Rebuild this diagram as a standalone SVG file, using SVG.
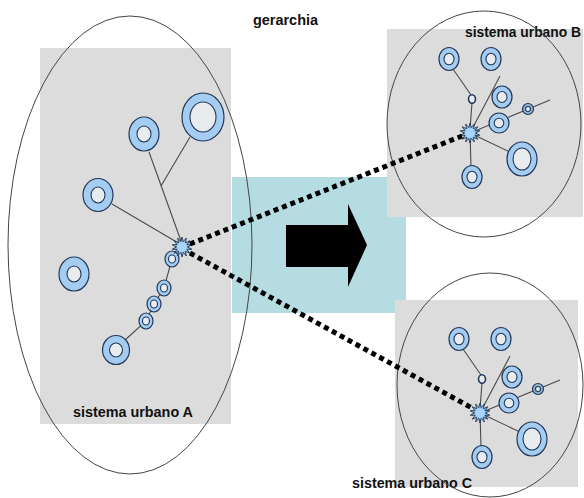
<svg xmlns="http://www.w3.org/2000/svg" xmlns:xlink="http://www.w3.org/1999/xlink" width="584" height="498" viewBox="0 0 584 498">
  <style>
    .bg { fill: #dcdcdc; }
    .zone { fill: #b5dde1; }
    .bound { fill: none; stroke: #454545; stroke-width: 1; }
    .link { stroke: #4a4a4a; stroke-width: 1.1; fill: none; }
    .ring { fill: #a5cdf2; stroke: #22385a; stroke-width: 1.2; }
    .hole { fill: #e8ecef; stroke: #22385a; stroke-width: 1.1; }
    .star { fill: #8ec3f0; stroke: #1e3350; stroke-width: 0.9; }
    .core { fill: #a9d5fb; }
    .flow { stroke: #000; stroke-width: 5; stroke-dasharray: 5 4; fill: none; }
    .label { font-family: "Liberation Sans", Arial, sans-serif; font-weight: bold; font-size: 14px; fill: #111; }
  </style>
  <defs>
    <!-- starburst marking the main centre of each system -->
    <g id="hub">
      <polygon class="star" points="0,-10 1.22,-5.36 4.34,-9.01 3.43,-4.3 7.82,-6.23 4.96,-2.39 9.75,-2.23 5.5,0 9.75,2.23 4.96,2.39 7.82,6.23 3.43,4.3 4.34,9.01 1.22,5.36 0,10 -1.22,5.36 -4.34,9.01 -3.43,4.3 -7.82,6.23 -4.96,2.39 -9.75,2.23 -5.5,0 -9.75,-2.23 -4.96,-2.39 -7.82,-6.23 -3.43,-4.3 -4.34,-9.01 -1.22,-5.36"/>
      <circle class="core" r="4.8"/>
    </g>
    <!-- satellite cluster shared by systems B and C, origin at the hub -->
    <g id="cluster">
      <line class="link" x1="-17" y1="-64" x2="1" y2="-38"/>
      <line class="link" x1="2" y1="-30" x2="0" y2="-4"/>
      <line class="link" x1="0" y1="0" x2="30" y2="-57"/>
      <line class="link" x1="0" y1="0" x2="80" y2="-33"/>
      <line class="link" x1="0" y1="0" x2="40" y2="19"/>
      <line class="link" x1="0" y1="0" x2="1" y2="33"/>
      <ellipse class="ring" cx="-21" cy="-74" rx="10" ry="11.5"/>
      <ellipse class="hole" cx="-21" cy="-74" rx="5" ry="5.8"/>
      <ellipse class="ring" cx="21" cy="-74" rx="10" ry="11.5"/>
      <ellipse class="hole" cx="21" cy="-74" rx="5" ry="5.8"/>
      <ellipse class="hole" cx="2" cy="-34" rx="3.5" ry="4.3" style="stroke-width:1.6"/>
      <ellipse class="ring" cx="32" cy="-36" rx="10" ry="11"/>
      <ellipse class="hole" cx="32" cy="-36" rx="5" ry="5.5"/>
      <ellipse class="ring" cx="29" cy="-10" rx="10" ry="10"/>
      <ellipse class="hole" cx="29" cy="-10" rx="4.8" ry="4.8"/>
      <ellipse class="ring" cx="58" cy="-24" rx="5.5" ry="5.5" style="fill:#8fb2d3"/>
      <ellipse class="hole" cx="58" cy="-24" rx="2.5" ry="2.5"/>
      <ellipse class="ring" cx="52" cy="26" rx="15" ry="17"/>
      <ellipse class="hole" cx="52" cy="26" rx="9" ry="11"/>
      <ellipse class="ring" cx="2" cy="44" rx="10" ry="11.5"/>
      <ellipse class="hole" cx="2" cy="44" rx="5" ry="5.8"/>
      <use xlink:href="#hub" href="#hub"/>
    </g>
  </defs>

  <rect width="584" height="498" fill="#ffffff"/>

  <!-- hierarchy transfer zone -->
  <g id="transfer">
    <rect class="zone" x="232" y="177" width="174" height="136"/>
  </g>

  <!-- urban system A -->
  <g id="system-A">
    <rect class="bg" x="40" y="48" width="191" height="376"/>
    <line class="link" x1="112" y1="204" x2="180" y2="244"/>
    <line class="link" x1="149" y1="152" x2="181" y2="241"/>
    <line class="link" x1="190" y1="137" x2="161" y2="186"/>
    <polyline class="link" points="124,341 146,321 154,304 164,288 172,259"/>
    <ellipse class="ring" cx="203" cy="117" rx="21" ry="24"/>
    <ellipse class="hole" cx="203" cy="117" rx="13" ry="15"/>
    <ellipse class="ring" cx="144" cy="134" rx="15" ry="17"/>
    <ellipse class="hole" cx="144" cy="134" rx="7" ry="8"/>
    <ellipse class="ring" cx="98" cy="195" rx="15" ry="16.5"/>
    <ellipse class="hole" cx="98" cy="195" rx="7" ry="8"/>
    <ellipse class="ring" cx="74" cy="274" rx="15" ry="17"/>
    <ellipse class="hole" cx="74" cy="274" rx="7" ry="8"/>
    <ellipse class="ring" cx="116" cy="350" rx="13.5" ry="14.5"/>
    <ellipse class="hole" cx="116" cy="350" rx="6.5" ry="7"/>
    <ellipse class="ring" cx="146" cy="321" rx="7" ry="8"/>
    <ellipse class="hole" cx="146" cy="321" rx="3.5" ry="4"/>
    <ellipse class="ring" cx="154" cy="304" rx="7" ry="8"/>
    <ellipse class="hole" cx="154" cy="304" rx="3.5" ry="4"/>
    <ellipse class="ring" cx="164" cy="288" rx="7" ry="8"/>
    <ellipse class="hole" cx="164" cy="288" rx="3.5" ry="4"/>
    <ellipse class="ring" cx="172" cy="259" rx="7" ry="8"/>
    <ellipse class="hole" cx="172" cy="259" rx="3.5" ry="4"/>
    <use xlink:href="#hub" href="#hub" transform="translate(182,247)"/>
    <text class="label" x="73" y="417" textLength="120" lengthAdjust="spacingAndGlyphs">sistema urbano A</text>
  </g>

  <!-- urban system B -->
  <g id="system-B">
    <rect class="bg" x="387" y="29" width="196" height="188"/>
    <use xlink:href="#cluster" href="#cluster" transform="translate(470,133)"/>
    <text class="label" x="465" y="37" textLength="116" lengthAdjust="spacingAndGlyphs">sistema urbano B</text>
  </g>

  <!-- urban system C -->
  <g id="system-C">
    <rect class="bg" x="395" y="300" width="183" height="187"/>
    <use xlink:href="#cluster" href="#cluster" transform="translate(480,413)"/>
    <text class="label" x="352" y="488" textLength="120" lengthAdjust="spacingAndGlyphs">sistema urbano C</text>
  </g>

  <!-- system boundaries -->
  <g id="boundaries">
    <ellipse class="bound" cx="130" cy="245" rx="122" ry="229"/>
    <ellipse class="bound" cx="484" cy="124" rx="97" ry="113"/>
    <ellipse class="bound" cx="490" cy="385" rx="93" ry="112"/>
  </g>

  <!-- dotted relations from the top-level centre -->
  <g id="connectors">
    <line class="flow" x1="190" y1="244" x2="462" y2="136"/>
    <line class="flow" x1="190" y1="253" x2="472" y2="408"/>
  </g>

  <g id="arrow">
    <polygon points="286,225 348,225 348,204 367,245 348,287 348,267 286,267" fill="#000"/>
  </g>

  <g id="title">
    <text class="label" x="253" y="25" textLength="65" lengthAdjust="spacingAndGlyphs">gerarchia</text>
  </g>
</svg>
